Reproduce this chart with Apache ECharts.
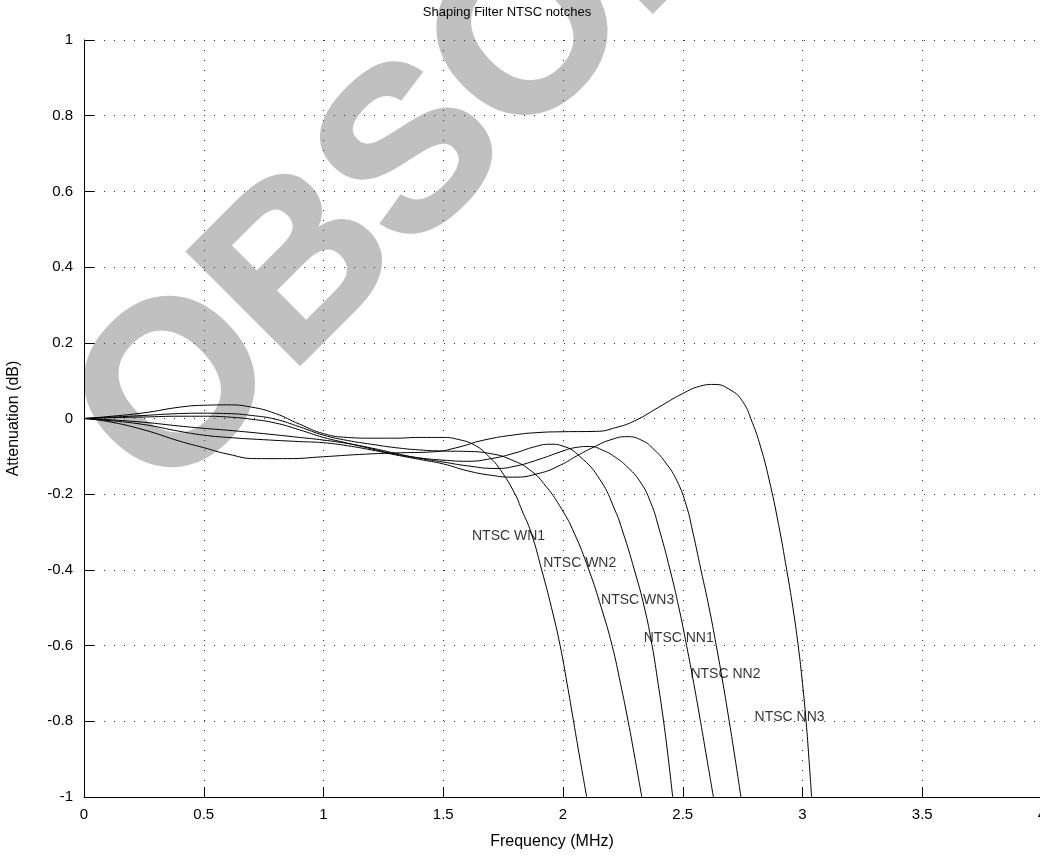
<!DOCTYPE html>
<html>
<head>
<meta charset="utf-8">
<title>Shaping Filter NTSC notches</title>
<script src="https://cdn.jsdelivr.net/npm/echarts@6/dist/echarts.min.js"></script>
<style>
  html, body { margin: 0; padding: 0; background: #fff; }
  #chart { width: 1040px; height: 857px; }
</style>
</head>
<body>
<div id="chart"></div>
<script>
// Frequency response of the shaping filter for each NTSC notch setting.
// Each curve: [frequency (MHz), attenuation (dB)]
const ntscWN1 = [[0,0],[0.1,0.005],[0.25,0.015],[0.4,0.03],[0.5,0.035],[0.6,0.036],[0.7,0.03],[0.8,0.013],[0.9,-0.015],[1.0,-0.04],[1.1,-0.05],[1.2,-0.052],[1.3,-0.052],[1.4,-0.05],[1.5,-0.05],[1.56,-0.055],[1.63,-0.07],[1.69,-0.1],[1.74,-0.137],[1.8,-0.2],[1.828,-0.242],[1.866,-0.3],[1.911,-0.4],[1.952,-0.5],[1.988,-0.6],[2.017,-0.7],[2.044,-0.8],[2.071,-0.9],[2.099,-1]];
const ntscWN2 = [[0,0],[0.1,0.003],[0.25,0.008],[0.4,0.013],[0.5,0.014],[0.6,0.013],[0.7,0.008],[0.8,-0.002],[0.9,-0.022],[1.0,-0.044],[1.1,-0.058],[1.2,-0.068],[1.3,-0.077],[1.4,-0.083],[1.5,-0.086],[1.6,-0.087],[1.7,-0.093],[1.78,-0.108],[1.862,-0.136],[1.93,-0.18],[1.995,-0.24],[2.045,-0.3],[2.108,-0.4],[2.16,-0.5],[2.205,-0.6],[2.24,-0.7],[2.272,-0.8],[2.301,-0.9],[2.329,-1]];
const ntscWN3 = [[0,0],[0.1,0.002],[0.25,0.004],[0.4,0.006],[0.5,0.006],[0.6,0.004],[0.7,-0.002],[0.8,-0.012],[0.9,-0.03],[1.0,-0.05],[1.1,-0.065],[1.2,-0.08],[1.3,-0.094],[1.4,-0.104],[1.5,-0.11],[1.6,-0.113],[1.7,-0.106],[1.8,-0.091],[1.88,-0.075],[1.946,-0.068],[2.0,-0.073],[2.07,-0.1],[2.155,-0.162],[2.217,-0.242],[2.25,-0.3],[2.298,-0.4],[2.34,-0.5],[2.372,-0.6],[2.397,-0.7],[2.42,-0.8],[2.44,-0.9],[2.458,-1]];
const ntscNN1 = [[0,0],[0.1,-0.003],[0.25,-0.01],[0.4,-0.02],[0.5,-0.026],[0.6,-0.031],[0.75,-0.04],[0.9,-0.05],[1.0,-0.057],[1.1,-0.066],[1.2,-0.078],[1.3,-0.092],[1.4,-0.105],[1.5,-0.115],[1.6,-0.125],[1.72,-0.132],[1.8,-0.126],[1.9,-0.108],[1.99,-0.088],[2.05,-0.077],[2.11,-0.074],[2.17,-0.085],[2.22,-0.103],[2.267,-0.127],[2.32,-0.165],[2.365,-0.22],[2.405,-0.3],[2.447,-0.4],[2.484,-0.5],[2.516,-0.6],[2.546,-0.7],[2.574,-0.8],[2.601,-0.9],[2.628,-1]];
const ntscNN2 = [[0,0],[0.1,-0.005],[0.25,-0.016],[0.4,-0.034],[0.5,-0.044],[0.6,-0.05],[0.75,-0.056],[0.9,-0.061],[1.0,-0.064],[1.1,-0.072],[1.2,-0.083],[1.3,-0.096],[1.4,-0.108],[1.5,-0.12],[1.6,-0.138],[1.7,-0.15],[1.79,-0.155],[1.9,-0.145],[1.99,-0.123],[2.06,-0.098],[2.13,-0.075],[2.2,-0.056],[2.267,-0.048],[2.33,-0.058],[2.38,-0.082],[2.43,-0.118],[2.476,-0.165],[2.515,-0.23],[2.542,-0.3],[2.576,-0.4],[2.61,-0.5],[2.64,-0.6],[2.668,-0.7],[2.694,-0.8],[2.719,-0.9],[2.743,-1]];
const ntscNN3 = [[0,0],[0.1,-0.008],[0.25,-0.03],[0.4,-0.06],[0.5,-0.077],[0.6,-0.094],[0.72,-0.106],[0.85,-0.106],[1.0,-0.101],[1.15,-0.095],[1.3,-0.091],[1.46,-0.088],[1.55,-0.078],[1.67,-0.057],[1.8,-0.043],[1.9,-0.037],[2.0,-0.035],[2.14,-0.034],[2.22,-0.024],[2.3,-0.006],[2.4,0.03],[2.5,0.066],[2.57,0.085],[2.63,0.09],[2.7,0.075],[2.75,0.045],[2.79,-0.01],[2.825,-0.075],[2.86,-0.16],[2.9,-0.28],[2.934,-0.4],[2.96,-0.5],[2.982,-0.6],[3.0,-0.7],[3.015,-0.8],[3.027,-0.9],[3.038,-1]];

const curveNames = ['NTSC WN1', 'NTSC WN2', 'NTSC WN3', 'NTSC NN1', 'NTSC NN2', 'NTSC NN3'];
const curveData = [ntscWN1, ntscWN2, ntscWN3, ntscNN1, ntscNN2, ntscNN3];
// where each curve's name is written: [frequency, attenuation]
const labelAnchors = [[1.618, -0.310], [1.915, -0.383], [2.157, -0.481], [2.335, -0.579], [2.53, -0.676], [2.798, -0.789]];

const font = 'Liberation Sans';
const chart = echarts.init(document.getElementById('chart'), null, { renderer: 'canvas' });

const dotted = { color: '#333', width: 1, type: [1, 9] };

const series = curveData.map((d, i) => ({
  name: curveNames[i],
  type: 'line',
  data: d,
  smooth: 0.5,
  showSymbol: false,
  symbol: 'none',
  lineStyle: { color: '#000', width: 1 },
  z: 3,
  animation: false
}));

series.push({
  name: 'labels',
  type: 'scatter',
  data: labelAnchors.map((p, i) => [p[0], p[1], curveNames[i]]),
  symbolSize: 1,
  itemStyle: { color: 'rgba(0,0,0,0)' },
  label: {
    show: true,
    position: 'right',
    distance: 0,
    formatter: p => p.data[2],
    color: '#000',
    fontFamily: font,
    fontSize: 14
  },
  z: 4,
  animation: false
});

chart.setOption({
  animation: false,
  backgroundColor: '#fff',
  title: {
    text: 'Shaping Filter NTSC notches',
    left: 507,
    top: 6,
    padding: 0,
    textAlign: 'center',
    textStyle: { fontFamily: font, fontSize: 13, fontWeight: 'normal', color: '#000' }
  },
  graphic: [{
    type: 'text',
    z: -10,
    silent: true,
    x: 118,
    y: 456,
    rotation: 45 * Math.PI / 180,
    style: {
      text: 'OBSOLETE',
      font: 'bold 230px "Liberation Sans"',
      fill: '#c0c0c0',
      stroke: '#c0c0c0',
      lineWidth: 4,
      textAlign: 'left',
      textVerticalAlign: 'middle'
    }
  }],
  grid: { left: 84, right: -2, top: 40, bottom: 60, containLabel: false, outerBoundsMode: 'none' },
  xAxis: {
    type: 'value',
    min: 0,
    max: 4,
    interval: 0.5,
    name: 'Frequency (MHz)',
    nameLocation: 'middle',
    nameGap: 37,
    nameTextStyle: { fontFamily: font, fontSize: 16, color: '#000', padding: [0, 22, 0, 0] },
    axisLine: { show: true, onZero: false, lineStyle: { color: '#000', width: 1 } },
    axisTick: { show: true, inside: true, length: 10, lineStyle: { color: '#000' } },
    axisLabel: { fontFamily: font, fontSize: 15, color: '#000', margin: 10, showMaxLabel: true },
    splitLine: { show: true, lineStyle: dotted }
  },
  yAxis: {
    type: 'value',
    min: -1,
    max: 1,
    interval: 0.2,
    name: 'Attenuation (dB)',
    nameLocation: 'middle',
    nameGap: 62,
    nameTextStyle: { fontFamily: font, fontSize: 16, color: '#000' },
    axisLine: { show: true, onZero: false, lineStyle: { color: '#000', width: 1 } },
    axisTick: { show: true, inside: true, length: 10, lineStyle: { color: '#000' } },
    axisLabel: { fontFamily: font, fontSize: 15, color: '#000', margin: 11 },
    splitLine: { show: true, lineStyle: dotted }
  },
  series: series
});
</script>
</body>
</html>
